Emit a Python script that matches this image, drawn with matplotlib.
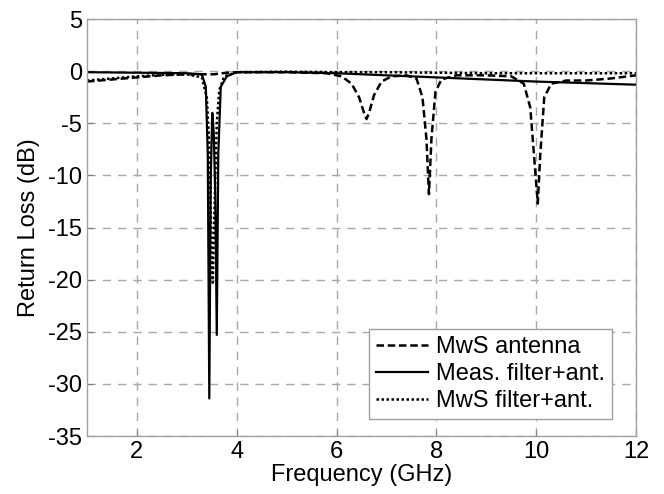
import matplotlib
matplotlib.use("Agg")
import matplotlib.pyplot as plt

plt.rcParams['font.family'] = ['Liberation Sans', 'DejaVu Sans']
plt.rcParams['axes.unicode_minus'] = False

# MwS antenna (dashed)
f_ant = [1.0, 1.5, 2.0, 2.5, 3.0, 3.3, 3.45, 3.55, 3.7, 4.0, 5.0, 5.8, 6.1, 6.3,
         6.45, 6.55, 6.6, 6.65, 6.75, 6.9, 7.1, 7.4, 7.6, 7.72, 7.8, 7.85, 7.9,
         7.98, 8.1, 8.4, 9.0, 9.5, 9.75, 9.88, 9.97, 10.03, 10.08, 10.16, 10.3,
         10.6, 11.0, 11.5, 12.0]
rl_ant = [-1.0, -0.8, -0.6, -0.4, -0.3, -0.3, -0.3, -0.3, -0.2, -0.1, -0.1, -0.2,
          -0.5, -1.2, -2.5, -4.0, -4.6, -4.0, -2.3, -1.0, -0.5, -0.4, -0.7, -2.5,
          -6.5, -11.8, -6.5, -2.0, -0.8, -0.4, -0.4, -0.5, -1.2, -3.5, -9.0,
          -12.7, -8.0, -2.5, -1.2, -0.9, -0.9, -0.7, -0.4]

# Meas. filter+ant. (solid)
f_meas = [1.0, 2.0, 3.0, 3.3, 3.38, 3.42, 3.45, 3.48, 3.51, 3.54, 3.57, 3.6,
          3.63, 3.68, 3.8, 4.0, 5.0, 6.0, 7.0, 8.0, 9.0, 10.0, 11.0, 12.0]
rl_meas = [-0.1, -0.15, -0.2, -0.3, -1.5, -8.0, -31.4, -10.0, -4.0, -6.0,
           -12.0, -25.3, -8.0, -1.5, -0.5, -0.1, -0.1, -0.2, -0.4, -0.6,
           -0.8, -1.0, -1.15, -1.3]

# MwS filter+ant. (dotted)
f_sim = [1.0, 1.5, 2.0, 2.5, 3.0, 3.3, 3.4, 3.45, 3.49, 3.52, 3.55, 3.6, 3.65,
         3.75, 4.0, 5.0, 6.0, 7.0, 8.0, 9.0, 10.0, 11.0, 12.0]
rl_sim = [-0.9, -0.7, -0.5, -0.35, -0.3, -0.6, -2.5, -7.0, -16.0, -20.3, -14.0,
          -5.0, -1.8, -0.5, -0.1, -0.05, -0.1, -0.1, -0.15, -0.2, -0.2, -0.2,
          -0.2]

labels = ['MwS antenna', 'Meas. filter+ant.', 'MwS filter+ant.']
xticks = [2, 4, 6, 8, 10, 12]
yticks = [5, 0, -5, -10, -15, -20, -25, -30, -35]

fig = plt.figure(figsize=(6.64, 4.94), dpi=100)
ax = fig.add_axes([0.131, 0.1174, 0.827, 0.8441])

ax.plot(f_ant, rl_ant, color='black', lw=1.8, ls=(0, (3, 1.5)), label=labels[0])
ax.plot(f_meas, rl_meas, color='black', lw=1.6, ls='-', label=labels[1])
ax.plot(f_sim, rl_sim, color='black', lw=1.8, ls=(0, (1, 1)), label=labels[2])

ax.set_xlim(1, 12)
ax.set_ylim(-35, 5)
ax.set_xticks(xticks)
ax.set_yticks(yticks)
ax.tick_params(direction='in', labelsize=17, color='#808080', length=4)
ax.grid(True, color='#a8a8a8', ls=(0, (6, 5)), lw=1.0)
for s in ax.spines.values():
    s.set_color('#a0a0a0')
    s.set_linewidth(1.0)

ax.set_xlabel('Frequency (GHz)', fontsize=17, labelpad=1)
ax.set_ylabel('Return Loss (dB)', fontsize=17, labelpad=6)

leg = ax.legend(loc='lower right', fontsize=17, frameon=True, fancybox=False,
                edgecolor='#a0a0a0', framealpha=1, handlelength=2.2,
                handletextpad=0.35, borderpad=0.3, labelspacing=0.2,
                borderaxespad=0, bbox_to_anchor=(0.956, 0.041))
leg.get_frame().set_linewidth(1.0)

fig.savefig('out.png', dpi=100)
